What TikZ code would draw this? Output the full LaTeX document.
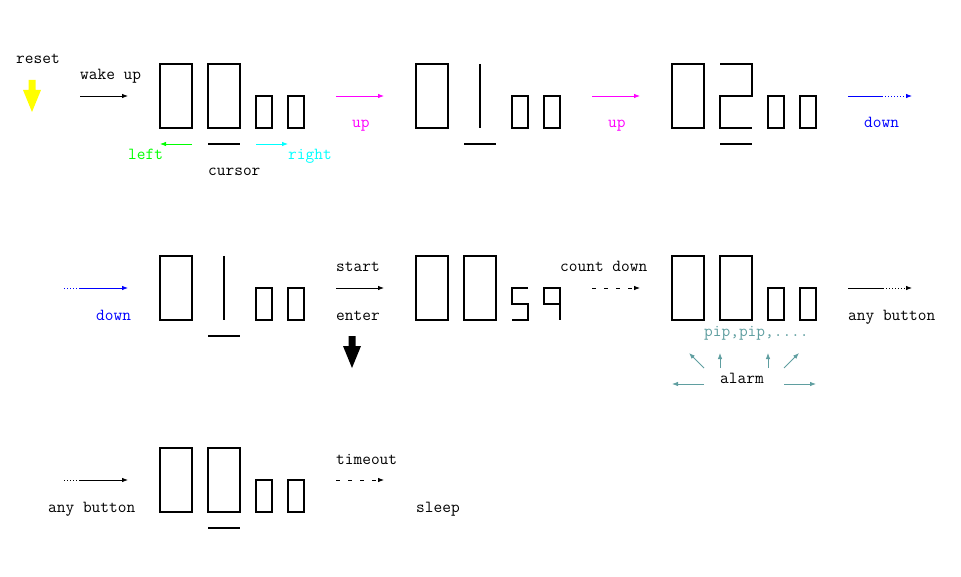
\documentclass[tikz,border=0pt]{standalone}
\usepackage{fontspec}
\usetikzlibrary{arrows.meta}
\definecolor{pipcol}{HTML}{5F9EA0}
\definecolor{mag}{HTML}{FF00FF}
\definecolor{blu}{HTML}{0000FF}
\definecolor{grn}{HTML}{00FF00}
\definecolor{cyn}{HTML}{00FFFF}
\definecolor{yel}{HTML}{FFFF00}
\begin{document}
\begin{tikzpicture}[x=1pt,y=-1pt,
  lbl/.style={anchor=base west,inner sep=0pt,font=\ttfamily\fontsize{16.9}{18}\selectfont},
  seg/.style={line width=2pt,line join=miter},
  conn/.style={line width=0.8pt,-{Latex[length=6pt,width=4.5pt]}},
  plain/.style={line width=0.8pt},
  dotl/.style={line width=0.8pt,dash pattern=on 1pt off 2pt},
  dashl/.style={line width=0.8pt,dash pattern=on 4pt off 8pt}]
\useasboundingbox (0,0) rectangle (961,577);
% ---------- row 1 ----------
\node[lbl] (reset) at (16,64) {reset};
\fill[yel] (28.5,80) -- (35.5,80) -- (35.5,90) -- (41,90) -- (32,112) -- (23,90) -- (28.5,90) -- cycle;
\node[lbl] (wake) at (80,80) {wake up};
\coordinate (w1) at (80,96); \coordinate (w2) at (128,96);
\draw[conn] (w1) -- (w2);
% display 00 00
\draw[seg] (160,64) rectangle (192,128);
\draw[seg] (208,64) rectangle (240,128);
\draw[seg] (256,96) rectangle (272,128);
\draw[seg] (288,96) rectangle (304,128);
\draw[seg] (208,144) -- (240,144);
\coordinate (l1) at (192,144); \coordinate (l2) at (160,144);
\draw[conn,grn] (l1) -- (l2);
\coordinate (r1) at (256,144); \coordinate (r2) at (288,144);
\draw[conn,cyn] (r1) -- (r2);
\node[lbl,text=grn] (left) at (128,160) {left};
\node[lbl,text=cyn] (right) at (288,160) {right};
\node[lbl] (cursor) at (208,176) {cursor};
% up 1
\coordinate (u1) at (336,96); \coordinate (u2) at (384,96);
\draw[conn,mag] (u1) -- (u2);
\node[lbl,text=mag] (up1) at (352,128) {up};
% display 01 00
\draw[seg] (416,64) rectangle (448,128);
\draw[seg] (480,64) -- (480,128);
\draw[seg] (512,96) rectangle (528,128);
\draw[seg] (544,96) rectangle (560,128);
\draw[seg] (464,144) -- (496,144);
% up 2
\coordinate (u3) at (592,96); \coordinate (u4) at (640,96);
\draw[conn,mag] (u3) -- (u4);
\node[lbl,text=mag] (up2) at (608,128) {up};
% display 02 00
\draw[seg] (672,64) rectangle (704,128);
\draw[seg] (720,64) -- (752,64) -- (752,96) -- (720,96) -- (720,128) -- (752,128);
\draw[seg] (768,96) rectangle (784,128);
\draw[seg] (800,96) rectangle (816,128);
\draw[seg] (720,144) -- (752,144);
% down (out)
\coordinate (d1) at (848,96); \coordinate (d2) at (882,96); \coordinate (d3) at (912,96);
\draw[plain,blu] (d1) -- (d2);
\draw[dotl,blu] (d2) -- ([xshift=-5pt]d3);
\draw[conn,blu] ([xshift=-6pt]d3) -- (d3);
\node[lbl,text=blu] (down1) at (864,128) {down};
% ---------- row 2 ----------
\coordinate (e1) at (64,288); \coordinate (e2) at (80,288); \coordinate (e3) at (128,288);
\draw[dotl,blu] (e1) -- (e2);
\draw[conn,blu] (e2) -- (e3);
\node[lbl,text=blu] (down2) at (96,320) {down};
\draw[seg] (160,256) rectangle (192,320);
\draw[seg] (224,256) -- (224,320);
\draw[seg] (256,288) rectangle (272,320);
\draw[seg] (288,288) rectangle (304,320);
\draw[seg] (208,336) -- (240,336);
\node[lbl] (start) at (336,272) {start};
\coordinate (s1) at (336,288); \coordinate (s2) at (384,288);
\draw[conn] (s1) -- (s2);
\node[lbl] (enter) at (336,320) {enter};
\fill[black] (348.5,336) -- (355.5,336) -- (355.5,346) -- (361,346) -- (352,368) -- (343,346) -- (348.5,346) -- cycle;
% display 00 59
\draw[seg] (416,256) rectangle (448,320);
\draw[seg] (464,256) rectangle (496,320);
\draw[seg] (528,288) -- (512,288) -- (512,304) -- (528,304) -- (528,320) -- (512,320);
\draw[seg] (560,304) -- (544,304) -- (544,288) -- (560,288) -- (560,320);
\node[lbl] (count) at (560,272) {count down};
\coordinate (c1) at (592,288); \coordinate (c2) at (634,288); \coordinate (c3) at (640,288);
\draw[dashl] (c1) -- (c2);
\draw[conn] (c2) -- (c3);
% display 00 00 alarm
\draw[seg] (672,256) rectangle (704,320);
\draw[seg] (720,256) rectangle (752,320);
\draw[seg] (768,288) rectangle (784,320);
\draw[seg] (800,288) rectangle (816,320);
\node[lbl,text=pipcol] (pip) at (704,336) {pip,pip,....};
\node[lbl] (alarm) at (720,383) {alarm};
\coordinate (a1) at (704,368); \coordinate (a2) at (689,353);
\coordinate (a3) at (720,368); \coordinate (a4) at (720,353);
\coordinate (a5) at (768,368); \coordinate (a6) at (768,353);
\coordinate (a7) at (784,368); \coordinate (a8) at (799,353);
\coordinate (a9) at (704,384); \coordinate (a10) at (672,384);
\coordinate (a11) at (784,384); \coordinate (a12) at (816,384);
\draw[conn,pipcol] (a1) -- (a2);
\draw[conn,pipcol] (a3) -- (a4);
\draw[conn,pipcol] (a5) -- (a6);
\draw[conn,pipcol] (a7) -- (a8);
\draw[conn,pipcol] (a9) -- (a10);
\draw[conn,pipcol] (a11) -- (a12);
\coordinate (b1) at (848,288); \coordinate (b2) at (883,288); \coordinate (b3) at (912,288);
\draw[plain] (b1) -- (b2);
\draw[dotl] (b2) -- ([xshift=-5pt]b3);
\draw[conn] ([xshift=-6pt]b3) -- (b3);
\node[lbl] (any1) at (848,320) {any button};
% ---------- row 3 ----------
\coordinate (f1) at (64,480); \coordinate (f2) at (80,480); \coordinate (f3) at (128,480);
\draw[dotl] (f1) -- (f2);
\draw[conn] (f2) -- (f3);
\node[lbl] (any2) at (48,512) {any button};
\draw[seg] (160,448) rectangle (192,512);
\draw[seg] (208,448) rectangle (240,512);
\draw[seg] (256,480) rectangle (272,512);
\draw[seg] (288,480) rectangle (304,512);
\draw[seg] (208,528) -- (240,528);
\node[lbl] (timeout) at (336,464) {timeout};
\coordinate (t1) at (336,480); \coordinate (t2) at (378,480); \coordinate (t3) at (384,480);
\draw[dashl] (t1) -- (t2);
\draw[conn] (t2) -- (t3);
\node[lbl] (sleep) at (416,512) {sleep};
\end{tikzpicture}
\end{document}
